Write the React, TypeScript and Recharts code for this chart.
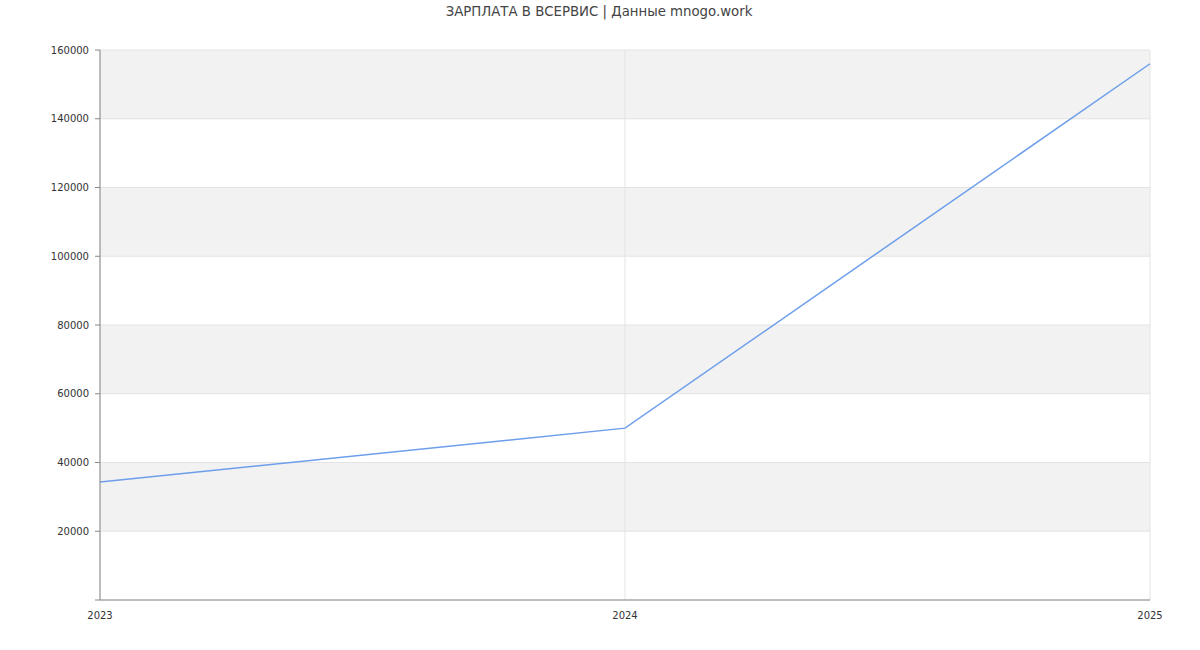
import { LineChart, Line, XAxis, YAxis, CartesianGrid } from "recharts";

// ─── Data ─────────────────────────────────────────────────────────────────────

const years = [2023, 2024, 2025];
const salary = [34300, 50000, 156000];
const yTicks = [0, 20000, 40000, 60000, 80000, 100000, 120000, 140000, 160000];

const data = years.map((year, i) => ({ year, value: salary[i] }));

const font = "'DejaVu Sans', sans-serif";
const tick = { fontSize: 10, fill: "#333", fontFamily: font };

export default function App() {
  return (
    <div style={{ position: "absolute", left: 0, top: 0, width: 1200, height: 650, background: "#fff" }}>
      <div
        style={{
          position: "absolute",
          top: 4,
          width: 1198,
          textAlign: "center",
          fontFamily: font,
          fontSize: 13.3,
          color: "#444",
        }}
      >
        ЗАРПЛАТА В ВСЕРВИС | Данные mnogo.work
      </div>
      <LineChart width={1200} height={650} data={data} margin={{ top: 50, right: 50, bottom: 20, left: 40 }}>
        <CartesianGrid stroke="#e3e3e3" horizontalFill={["#f2f2f2", "#ffffff"]} fillOpacity={1} />
        <XAxis
          dataKey="year"
          type="number"
          domain={[2023, 2025]}
          ticks={years}
          height={30}
          tick={tick}
          tickLine={false}
          tickSize={0}
          tickMargin={12}
          axisLine={{ stroke: "#888" }}
        />
        <YAxis
          type="number"
          domain={[0, 160000]}
          ticks={yTicks}
          width={60}
          tick={tick}
          tickSize={5}
          tickMargin={6}
          tickLine={{ stroke: "#888" }}
          axisLine={{ stroke: "#888" }}
          tickFormatter={(v: number) => (v === 0 ? "" : String(v))}
        />
        <Line
          isAnimationActive={false}
          type="linear"
          dataKey="value"
          stroke="#6d9eeb"
          strokeWidth={1.5}
          dot={false}
        />
      </LineChart>
    </div>
  );
}
